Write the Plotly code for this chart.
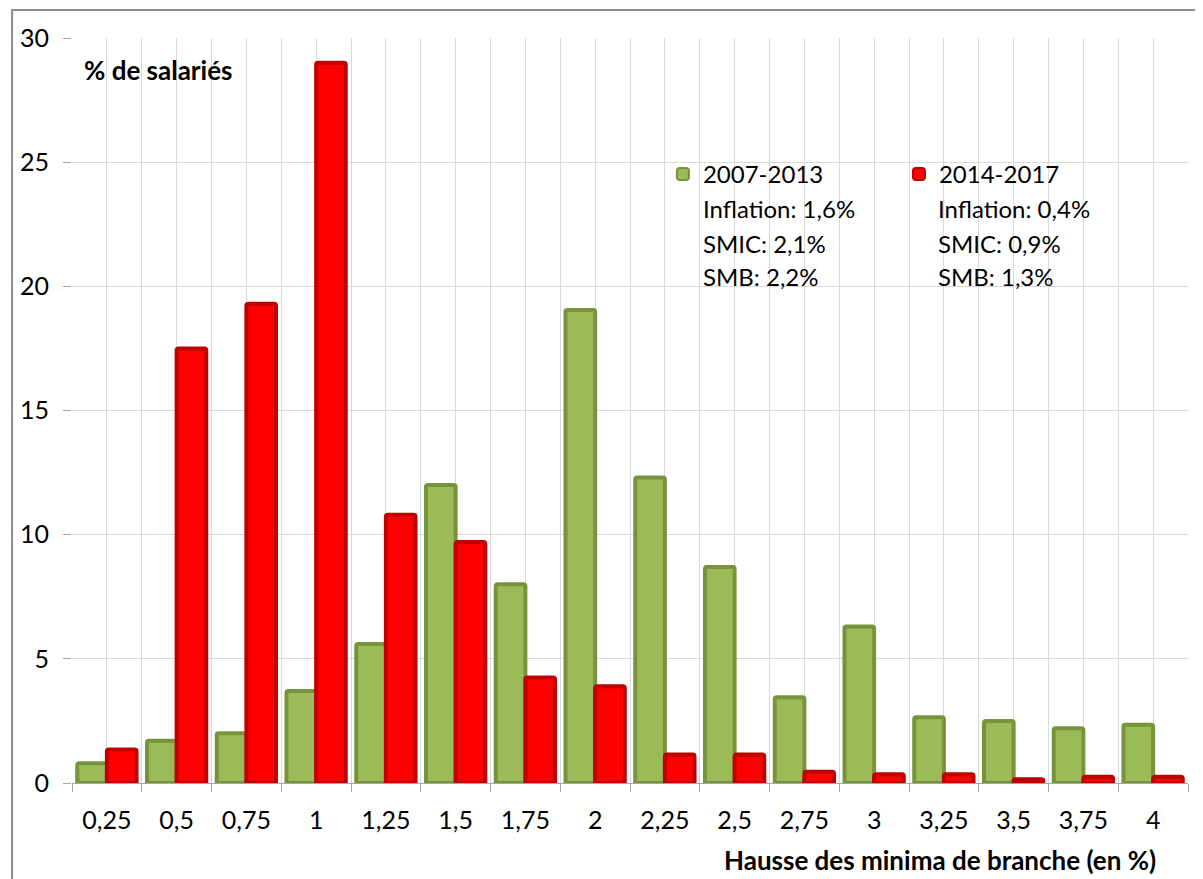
import plotly.graph_objects as go

categories = ["0,25", "0,5", "0,75", "1", "1,25", "1,5", "1,75", "2", "2,25",
              "2,5", "2,75", "3", "3,25", "3,5", "3,75", "4"]
series_2007_2013 = [0.8, 1.7, 2.0, 3.7, 5.6, 12.0, 8.0, 19.05, 12.3, 8.7,
                    3.45, 6.3, 2.65, 2.5, 2.2, 2.35]
series_2014_2017 = [1.35, 17.5, 19.3, 29.0, 10.8, 9.7, 4.25, 3.9, 1.15, 1.15,
                    0.45, 0.35, 0.35, 0.15, 0.25, 0.25]
series_names = ["2007-2013", "2014-2017"]
notes_2007_2013 = ["Inflation: 1,6%", "SMIC: 2,1%", "SMB: 2,2%"]
notes_2014_2017 = ["Inflation: 0,4%", "SMIC: 0,9%", "SMB: 1,3%"]
y_title = "% de salariés"
x_title = "Hausse des minima de branche (en %)"

OFF = 8  # page body margin
W, H = 1203, 879
L, T = 70 - OFF, 38 - OFF
PW, PH = 1118, 745
R, B = W - L - PW, H - T - PH

def px(xs):
    return (xs - OFF - L) / PW

def py(ys):
    return (T + PH - (ys - OFF)) / PH

FONT = "Lato, 'Open Sans', sans-serif"

fig = go.Figure()
fig.add_trace(go.Bar(
    x=categories, y=series_2007_2013, name=series_names[0],
    marker=dict(color="#9BBB59", line=dict(color="#77933C", width=4), cornerradius=2),
))
fig.add_trace(go.Bar(
    x=categories, y=series_2014_2017, name=series_names[1],
    marker=dict(color="#FF0000", line=dict(color="#C00000", width=4), cornerradius=2),
))
# dummy trace for overlay axis (grid lines at category centres)
fig.add_trace(go.Scatter(x=[0], y=[0], xaxis="x2", mode="markers",
                         marker=dict(opacity=0), showlegend=False, hoverinfo="skip"))

fig.update_layout(
    width=W, height=H,
    margin=dict(l=L, r=R, t=T, b=B),
    paper_bgcolor="white", plot_bgcolor="white",
    barmode="group", bargap=0.15, bargroupgap=0.0,
    font=dict(family=FONT, size=25, color="#000000"),
    xaxis=dict(
        type="category", range=[-0.5, 15.5], tickson="boundaries",
        ticks="outside", ticklen=8, tickcolor="#A6A6A6",
        showgrid=True, gridcolor="#D9D9D9", gridwidth=1,
        showline=True, linecolor="#A6A6A6", linewidth=1,
        tickfont=dict(family=FONT, size=25), ticklabelstandoff=15,
    ),
    xaxis2=dict(
        overlaying="x", range=[-0.5, 15.5], tickmode="array",
        tickvals=list(range(len(categories))), showticklabels=False,
        ticks="", showgrid=True, gridcolor="#D9D9D9", gridwidth=1,
        zeroline=False, showline=False,
    ),
    yaxis=dict(
        range=[0, 30], dtick=5, ticks="outside", ticklen=8, tickcolor="#A6A6A6",
        showgrid=True, gridcolor="#D9D9D9", zeroline=False,
        showline=False, tickfont=dict(family=FONT, size=25), ticklabelstandoff=9,
    ),
    legend=dict(
        orientation="h", x=px(662), y=py(152), xanchor="left", yanchor="top",
        bgcolor="rgba(0,0,0,0)", font=dict(family=FONT, size=24),
        entrywidth=191, entrywidthmode="pixels", traceorder="normal",
        itemsizing="constant",
    ),
    showlegend=True,
)

# white legend box
fig.add_shape(type="rect", xref="paper", yref="paper",
              x0=px(629), x1=px(1145), y0=py(329), y1=py(115),
              fillcolor="white", line=dict(width=0), layer="between")
# outer chart border
fig.add_shape(type="rect", xref="paper", yref="paper",
              x0=px(10), x1=px(1220), y0=py(900), y1=py(10),
              fillcolor="rgba(0,0,0,0)", line=dict(color="#8C8C8C", width=2),
              layer="above")

ann = []
ann.append(dict(text="<b>" + y_title + "</b>", xref="paper", yref="paper",
                x=px(80), y=py(70), xanchor="left", yanchor="middle",
                showarrow=False, font=dict(family=FONT, size=26)))
ann.append(dict(text="<b>" + x_title + "</b>", xref="paper", yref="paper",
                x=px(1158), y=py(860), xanchor="right", yanchor="middle",
                showarrow=False, font=dict(family=FONT, size=26)))
row_y = [209, 243, 276]
for i, t in enumerate(notes_2007_2013):
    ann.append(dict(text=t, xref="paper", yref="paper", x=px(700), y=py(row_y[i]),
                    xanchor="left", yanchor="middle", showarrow=False,
                    font=dict(family=FONT, size=24)))
for i, t in enumerate(notes_2014_2017):
    ann.append(dict(text=t, xref="paper", yref="paper", x=px(936), y=py(row_y[i]),
                    xanchor="left", yanchor="middle", showarrow=False,
                    font=dict(family=FONT, size=24)))
fig.update_layout(annotations=ann)

fig.write_html("out.html")
